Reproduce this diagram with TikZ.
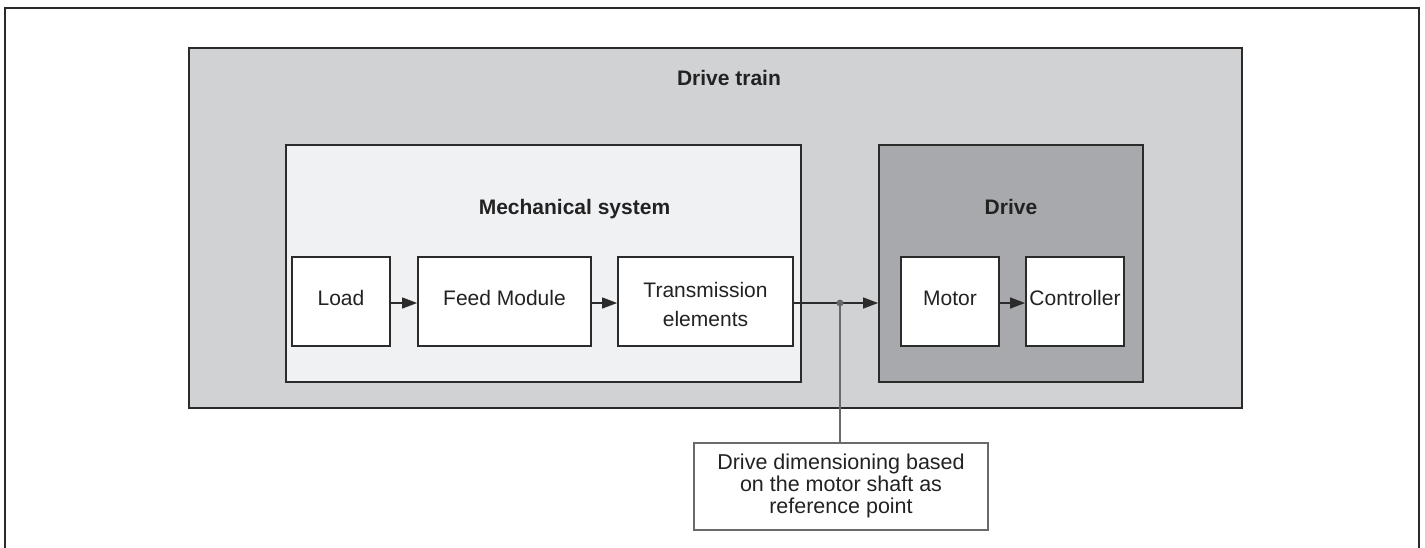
\documentclass[tikz,border=0pt]{standalone}
\usepackage{fontspec}
\setmainfont{Liberation Sans}
\usetikzlibrary{arrows.meta}
\definecolor{dtfill}{HTML}{D1D2D4}
\definecolor{mechfill}{HTML}{F0F1F3}
\definecolor{drivefill}{HTML}{A8A9AC}
\definecolor{linec}{HTML}{2B2B2B}
\definecolor{txt}{HTML}{222222}
\definecolor{callc}{HTML}{6A6A6A}
\newcommand\myCalloutFont{\fontsize{21.5}{22}\selectfont\lineskiplimit=-30pt\relax}
\begin{document}
\begin{tikzpicture}[x=1pt,y=-1pt,
  group/.style={draw=linec, line width=1.8pt, inner sep=0pt},
  box/.style={draw=linec, line width=1.8pt, fill=white, inner sep=0pt, text=txt,
    font=\fontsize{21}{25}\selectfont, text height=15pt, text depth=8pt, minimum height=89pt},
  title/.style={font=\bfseries\fontsize{21}{25}\selectfont, text=txt, anchor=base, inner sep=0pt},
  flow/.style={draw=linec, line width=1.3pt, -{Triangle[length=15pt,width=11pt]}},
]
\useasboundingbox (0,0) rectangle (1425,547);
\fill[white] (0,0) rectangle (1425,547);
\draw[linec, line width=2pt] (4.5,600) -- (4.5,8) -- (1418.5,8) -- (1418.5,600);

% groups
\node[group, line width=1.5pt, fill=dtfill, minimum width=1053pt, minimum height=360pt] (train) at (715.5,228) {};
\node[group, fill=mechfill, minimum width=515pt, minimum height=237pt] (mech) at (543.5,263.5) {};
\node[group, fill=drivefill, minimum width=264pt, minimum height=237pt] (drive) at (1011,263.5) {};

\node[title] (traintitle) at (729,85) {Drive train};
\node[title] (mechtitle) at (574.5,214) {Mechanical system};
\node[title] (drivetitle) at (1011,214) {Drive};

% inner boxes
\node[box, minimum width=98pt] (load) at (341,301.5) {Load};
\node[box, minimum width=173pt] (feed) at (504.5,301.5) {Feed Module};
\node[box, minimum width=175pt] (trans) at (705.5,301.5) {};
\node[font={\fontsize{21}{29.3}\selectfont}, align=center, text=txt, inner sep=0pt] (transtext) at (705.5,304.5) {Transmission\\elements};
\node[box, minimum width=98pt] (motor) at (950,301.5) {Motor};
\node[box, minimum width=98pt] (ctrl) at (1075,301.5) {Controller};

% flow arrows
\draw[flow] ([yshift=-1.5pt]load.east) -- ([yshift=-1.5pt]feed.west);
\draw[flow] ([yshift=-1.5pt]feed.east) -- ([yshift=-1.5pt]trans.west);
\draw[flow] ([yshift=-1.5pt]motor.east) -- ([yshift=-1.5pt]ctrl.west);
\coordinate (shaft) at (840,303);
\draw[flow] ([yshift=-1.5pt]trans.east) -- ([yshift=-1.5pt]drive.west |- trans.east);

% callout
\node[draw=callc, line width=1.2pt, fill=white, minimum width=294pt, minimum height=87pt, inner sep=0pt] (callout) at (841,486.5) {};
\node[font=\myCalloutFont, align=center, text=txt, inner sep=0pt] (callouttext) at (841,486) {Drive dimensioning based\\on the motor shaft as\\reference point};
\draw[callc, line width=1.5pt] (shaft) -- (shaft |- callout.north);
\fill[callc] (shaft) circle (3.5pt);
\end{tikzpicture}
\end{document}
